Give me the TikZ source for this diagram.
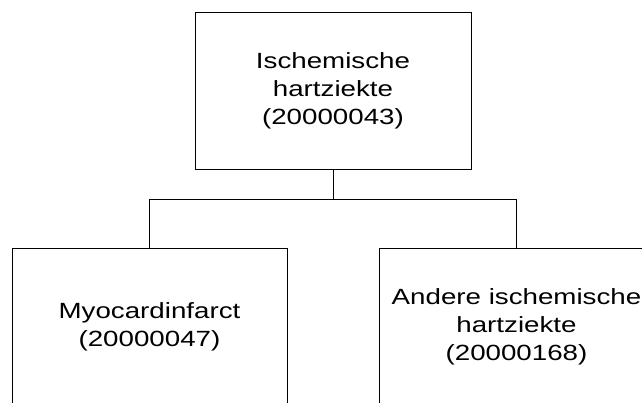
\documentclass[tikz,border=0pt]{standalone}
\usepackage{fontspec}
\setmainfont{Liberation Sans}[FakeStretch=1.26]
\begin{document}
\begin{tikzpicture}[x=1pt,y=-1pt,
  box/.style={draw=black,line width=0.8pt,minimum width=276pt,minimum height=157pt,
    inner sep=0pt,align=center,font=\fontsize{22}{28}\selectfont},
  link/.style={draw=black,line width=0.8pt}]
\useasboundingbox (0,0) rectangle (642,402);
\clip (0,0) rectangle (642,402);
\node[box] (top) at (333,90.5) {Ischemische\\hartziekte\\(20000043)};
\node[box,minimum width=275pt] (left) at (149.5,326.5) {Myocardinfarct\\(20000047)};
\node[box,minimum width=275pt] (right) at (516.5,326.5) {Andere ischemische\\hartziekte\\(20000168)};
\coordinate (j) at (333,199.5);
\draw[link] (top.south) -- (j);
\draw[link] (left.north) |- (j) -| (right.north);
\end{tikzpicture}
\end{document}
